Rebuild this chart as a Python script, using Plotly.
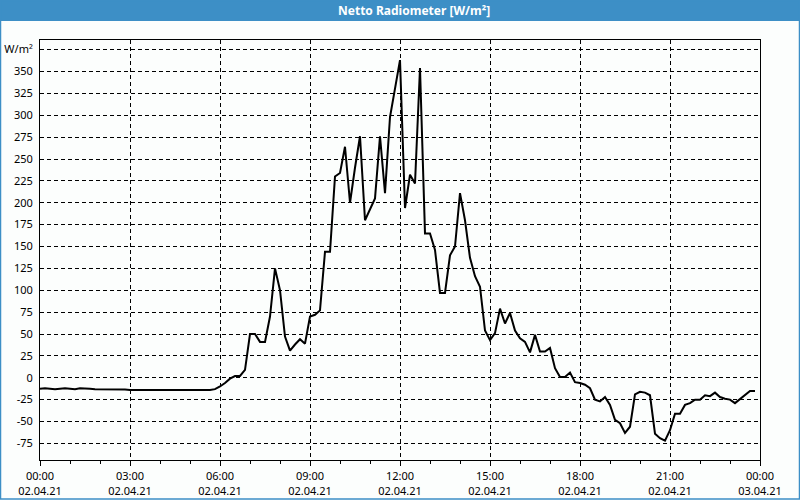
import pandas as pd
import plotly.graph_objects as go

# ---- data (10-minute samples, 02.04.21 00:00 .. 23:50) ----
start_time = "2021-04-02 00:00"
sample_minutes = 10
net_radiation = [
    -12.5, -12, -12.5, -13, -12.5, -12, -12.5, -13, -12, -12,
    -12.5, -13, -13, -13, -13, -13, -13, -13.5, -14, -14,
    -14, -14, -14, -14, -14, -14, -14, -14, -14, -14,
    -14, -14, -14, -14, -14, -13, -10, -6, -1, 2,
    2, 9, 50, 50, 41, 41, 70, 125, 100, 47,
    31, 38, 44, 39, 70, 72, 77, 144, 144, 230,
    234, 264, 200, 240, 276, 180, 192, 205, 276, 211,
    298, 330, 363, 194, 232, 222, 354, 165, 165, 146,
    97, 97, 140, 150, 211, 180, 137, 116, 104, 54,
    43, 51, 79, 62, 74, 54, 45, 41, 29, 49,
    30, 30, 34, 11, 1, 1, 6, -5, -6, -8,
    -12, -25, -27, -22, -31, -48, -52, -63, -56, -19,
    -16, -17, -20, -64, -69, -72, -60, -41, -41, -31,
    -29, -25, -25, -20, -21, -17, -22, -24, -25, -29,
    -24, -19, -15, -15,
]
times = pd.date_range(start_time, periods=len(net_radiation), freq=f"{sample_minutes}min")

x_tick_times = pd.date_range("2021-04-02 00:00", "2021-04-03 00:00", freq="3h")
x_tick_labels = [t.strftime("%H:%M") + "<br>" + t.strftime("%d.%m.%y") for t in x_tick_times]

y_tick_values = list(range(-75, 376, 25))
y_tick_labels = [str(v) for v in y_tick_values[:-1]] + ["W/m²"]

title_text = "Netto Radiometer [W/m²]"

# ---- figure ----
W, H = 800, 500
ML, MR, MT, MB = 40, 40, 40, 40
PW, PH = W - ML - MR, H - MT - MB

def px_x(p):
    return (p - ML) / PW

def px_y(p):
    return (H - MB - p) / PH

BLUE = "#3d8fc6"
FONT = "Noto Sans"

fig = go.Figure()
fig.add_trace(go.Scatter(
    x=times, y=net_radiation, mode="lines",
    line=dict(color="black", width=2), hoverinfo="skip", showlegend=False,
))

fig.update_layout(
    width=W, height=H,
    margin=dict(l=ML, r=MR, t=MT, b=MB, autoexpand=False),
    paper_bgcolor="#fcfefd", plot_bgcolor="#fcfefd",
    font=dict(family=FONT, size=11, color="black"),
    showlegend=False,
    xaxis=dict(
        type="date", automargin=False,
        range=["2021-04-02 00:00", "2021-04-03 00:00"],
        tickvals=x_tick_times, ticktext=x_tick_labels,
        ticks="outside", ticklen=5, tickcolor="black", tickwidth=1,
        ticklabelstandoff=1,
        minor=dict(dtick=3600000, ticks="outside", ticklen=3, tickcolor="black", showgrid=False),
        showgrid=True, gridcolor="black", gridwidth=1, griddash="4px,3px",
        showline=True, linecolor="black", linewidth=1, mirror=True,
        zeroline=False, tickfont=dict(family=FONT, size=11),
    ),
    yaxis=dict(
        automargin=False,
        range=[-94, 386],
        tickvals=y_tick_values, ticktext=y_tick_labels,
        ticks="", ticklabelstandoff=4,
        showgrid=True, gridcolor="black", gridwidth=1, griddash="4px,3px",
        showline=True, linecolor="black", linewidth=1, mirror=True,
        zeroline=False, tickfont=dict(family=FONT, size=11),
    ),
    shapes=[
        dict(type="rect", xref="paper", yref="paper",
             x0=px_x(0), x1=px_x(W), y0=px_y(21), y1=px_y(0),
             fillcolor=BLUE, line=dict(width=0), layer="above"),
        dict(type="rect", xref="paper", yref="paper",
             x0=px_x(0.5), x1=px_x(W - 0.5), y0=px_y(H - 1), y1=px_y(0.5),
             fillcolor="rgba(0,0,0,0)", line=dict(color=BLUE, width=1.5), layer="above"),
    ],
    annotations=[
        dict(text="<b>" + title_text + "</b>", xref="paper", yref="paper",
             x=px_x(414), y=px_y(10.5), xanchor="center", yanchor="middle",
             showarrow=False, font=dict(family=FONT, size=12, color="white")),
    ],
)

fig.write_html("out.html")
